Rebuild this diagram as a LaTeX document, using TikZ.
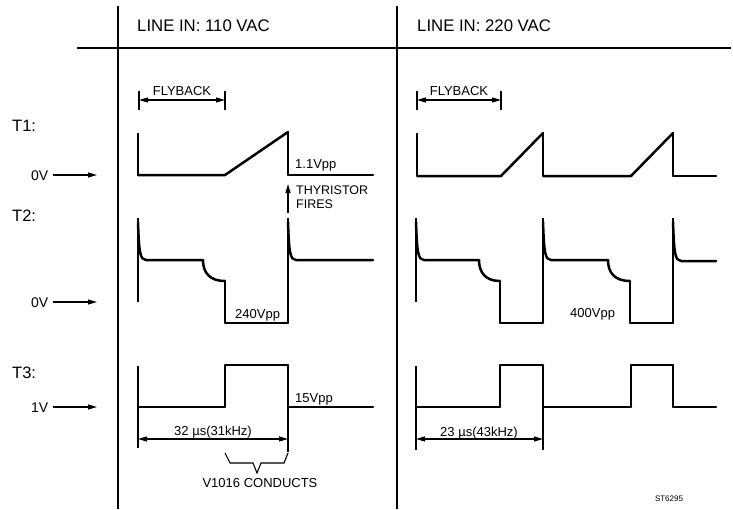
\documentclass[tikz,border=0pt]{standalone}
\usepackage{fontspec}
\setmainfont{Liberation Sans}
\usetikzlibrary{arrows.meta}
\tikzset{
  wv/.style={line width=2.5pt, line cap=round, line join=round},
  vt/.style={line width=1.3pt},
  dv/.style={line width=1.5pt},
  thinl/.style={line width=1.1pt},
  dimarr/.style={line width=1.1pt, {Triangle[length=9pt,width=5pt]}-{Triangle[length=9pt,width=5pt]}},
  ptr/.style={line width=1.2pt, -{Triangle[length=9pt,width=5pt]}},
  txt/.style={inner sep=0pt, font=\fontsize{13}{13}\selectfont},
  hdr/.style={inner sep=0pt, font=\fontsize{16.75}{16.75}\selectfont, anchor=base west},
  tlab/.style={inner sep=0pt, font=\fontsize{16.5}{16.5}\selectfont, anchor=base west},
  vlab/.style={inner sep=0pt, font=\fontsize{14}{14}\selectfont, anchor=base west}
}
\begin{document}
\begin{tikzpicture}[x=1pt,y=-1pt]
\useasboundingbox (0,0) rectangle (733,509);
% frame
\draw[dv] (118,6) -- (118,509);
\draw[dv] (397,6) -- (397,509);
\draw[dv] (77,48) -- (731,48);
\node[hdr] (h1) at (137,31) {LINE IN: 110 VAC};
\node[hdr] (h2) at (417,31) {LINE IN: 220 VAC};
% row labels
\node[tlab] (t1) at (12,131) {T1:};
\node[tlab] (t2) at (12,221) {T2:};
\node[tlab] (t3) at (12,378) {T3:};
\node[vlab] (v1) at (31,180) {0V};
\node[vlab] (v2) at (31,307) {0V};
\node[vlab] (v3) at (31,412) {1V};
\coordinate (a1) at (97,175);
\coordinate (a2) at (97,302);
\coordinate (a3) at (97,407);
\draw[ptr] ([xshift=4pt]v1.east |- a1) -- (a1);
\draw[ptr] ([xshift=4pt]v2.east |- a2) -- (a2);
\draw[ptr] ([xshift=4pt]v3.east |- a3) -- (a3);
% flyback
\draw[thinl] (139,91) -- (139,110);
\draw[thinl] (225,91) -- (225,110);
\draw[dimarr] (139,100) -- (225,100);
\node[txt, anchor=base] (fb1) at (182,95) {FLYBACK};
\draw[thinl] (417,91) -- (417,110);
\draw[thinl] (501,91) -- (501,110);
\draw[dimarr] (417,100) -- (501,100);
\node[txt, anchor=base] (fb2) at (459,95) {FLYBACK};
% ---- T1 left
\draw[vt] (138,133) -- (138,175);
\draw[wv] (138,175) -- (225,175) -- (288,132);
\draw[vt] (288,132) -- (288,175);
\draw[wv] (288,175) -- (373,175);
\node[txt, anchor=base west] (p1) at (295,168) {1.1Vpp};
\node[inner sep=0pt, font=\fontsize{12.5}{13.5}\selectfont, align=left, anchor=north west] (th) at (296,186) {THYRISTOR\\FIRES};
\coordinate (tf0) at (288,213);
\coordinate (tf1) at (288,184);
\draw[ptr] (tf0) -- (tf1);
% ---- T1 right
\draw[vt] (417,133) -- (417,176);
\draw[wv] (417,176) -- (501,176) -- (543,133);
\draw[vt] (543,133) -- (543,176);
\draw[wv] (543,176) -- (631,176) -- (673,133);
\draw[vt] (673,133) -- (673,176);
\draw[wv] (673,176) -- (716,176);
% ---- T2 left
\draw[vt] (138,218) -- (138,302);
\draw[wv] (138,222) .. controls (139,252) and (140,260) .. (146,260) -- (203,260) .. controls (203,273) and (210,281) .. (225,281);
\draw[vt] (225,281) -- (225,323);
\draw[wv] (225,323) -- (288,323);
\draw[vt] (288,323) -- (288,218);
\draw[wv] (288,222) .. controls (289,252) and (290,260) .. (296,260) -- (373,260);
\node[txt, anchor=base west] (p2) at (235,318) {240Vpp};
% ---- T2 right
\draw[vt] (416,218) -- (416,302);
\draw[wv] (416,222) .. controls (417,252) and (418,260) .. (424,260) -- (479,260) .. controls (479,273) and (486,281) .. (500,281);
\draw[vt] (500,281) -- (500,323);
\draw[wv] (500,323) -- (543,323);
\draw[vt] (543,323) -- (543,218);
\draw[wv] (543,222) .. controls (544,252) and (545,260) .. (551,260) -- (608,260) .. controls (608,273) and (615,281) .. (630,281);
\draw[vt] (630,281) -- (630,323);
\draw[wv] (630,323) -- (673,323);
\draw[vt] (673,323) -- (673,218);
\draw[wv] (673,222) .. controls (674,252) and (675,261) .. (681,261) -- (716,261);
\node[txt, anchor=base west] (p3) at (570,317) {400Vpp};
% ---- T3 left
\draw[vt] (138,366) -- (138,448);
\draw[wv] (138,407) -- (225,407);
\draw[vt] (225,407) -- (225,365);
\draw[wv] (225,365) -- (288,365);
\draw[vt] (288,365) -- (288,452);
\draw[wv] (288,407) -- (373,407);
\node[txt, anchor=base west] (p4) at (295,402) {15Vpp};
\draw[dimarr] (138,439) -- (288,439);
\node[txt, anchor=base] (d1) at (213,435) {32 µs(31kHz)};
\draw[thinl, line join=miter] (225,453) -- (230,463) -- (253,463) -- (257,473) -- (261,463) -- (284,463) -- (288,453);
\node[txt, anchor=base] (vc) at (260,487) {V1016 CONDUCTS};
% ---- T3 right
\draw[vt] (416,366) -- (416,450);
\draw[wv] (416,407) -- (500,407);
\draw[vt] (500,407) -- (500,365);
\draw[wv] (500,365) -- (543,365);
\draw[vt] (543,365) -- (543,450);
\draw[wv] (543,407) -- (631,407);
\draw[vt] (631,407) -- (631,365);
\draw[wv] (631,365) -- (673,365);
\draw[vt] (673,365) -- (673,407);
\draw[wv] (673,407) -- (716,407);
\draw[dimarr] (416,439) -- (543,439);
\node[txt, anchor=base] (d2) at (479,436) {23 µs(43kHz)};
\node[inner sep=0pt, font=\fontsize{8}{8}\selectfont, anchor=base] (st) at (669,501) {ST6295};
\end{tikzpicture}
\end{document}
